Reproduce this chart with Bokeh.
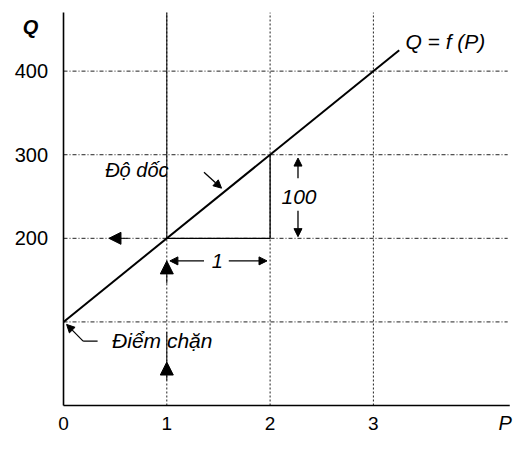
from bokeh.plotting import figure
from bokeh.models import Range1d, Arrow, NormalHead
from bokeh.core.properties import value
from bokeh.embed import file_html
from bokeh.resources import INLINE

# ---- data ----
price = [0, 3.25]
quantity = [100, 425]
x_ticks = [0, 1, 2, 3]
x_tick_labels = ["0", "1", "2", "3"]
y_ticks = [200, 300, 400]
y_tick_labels = ["200", "300", "400"]
grid_x = [1, 2, 3]
grid_y = [100, 200, 300, 400]
# slope triangle (run 1, rise 100)
tri_x = [1, 2, 2]
tri_y = [200, 200, 300]

FONT = value("Liberation Sans")
P_MAX = 4.30
Q_TOP = 470
TICK_Q = -21

p = figure(width=514, height=433,
           x_range=Range1d(-0.61, 4.366), y_range=Range1d(-33.5, 484.5),
           output_backend="svg", toolbar_location=None,
           x_axis_type=None, y_axis_type=None, min_border=0)
p.outline_line_color = None
p.background_fill_color = "white"
p.border_fill_color = "white"

# dotted gridlines
p.segment(x0=grid_x, y0=[0] * len(grid_x), x1=grid_x, y1=[Q_TOP] * len(grid_x),
          line_color="#222222", line_width=1, line_dash="2 2")
p.segment(x0=[0] * len(grid_y), y0=grid_y, x1=[P_MAX] * len(grid_y), y1=grid_y,
          line_color="#222222", line_width=1, line_dash="4 2 1 2")

# solid part of P=1 guide
p.line(x=[1, 1], y=[200, Q_TOP], line_color="black", line_width=1)
p.line(x=[1, 1], y=[52, 88], line_color="black", line_width=1)

# axes lines
p.line(x=[0, 0], y=[0, Q_TOP], line_color="black", line_width=1.6)
p.line(x=[0, P_MAX + 0.02], y=[0, 0], line_color="black", line_width=1.6)

# tick labels
p.text(x=x_ticks, y=[TICK_Q] * len(x_ticks), text=x_tick_labels, text_font=FONT,
       text_font_size="19px", text_align="center", text_baseline="middle", text_color="black")
p.text(x=[-0.15] * len(y_ticks), y=y_ticks, text=y_tick_labels, text_font=FONT,
       text_font_size="20px", text_align="right", text_baseline="middle", text_color="black")
p.text(x=[4.34], y=[TICK_Q], text=["P"], text_font=FONT, text_font_style="italic",
       text_font_size="20px", text_align="right", text_baseline="middle", text_color="black")
p.text(x=[-0.32], y=[453], text=["Q"], text_font=FONT, text_font_style="bold italic",
       text_font_size="20px", text_align="center", text_baseline="middle", text_color="black")

# demand line
p.line(x=price, y=quantity, line_color="black", line_width=2)
p.text(x=[3.31], y=[435], text=["Q = f (P)"], text_font=FONT, text_font_style="italic",
       text_font_size="21px", text_align="left", text_baseline="middle", text_color="black")

# slope triangle
p.line(x=tri_x, y=tri_y, line_color="black", line_width=1.3)

def arrow(x0, y0, x1, y1, size=12, lw=1.3):
    p.add_layout(Arrow(end=NormalHead(size=size, fill_color="black", line_color="black", line_width=1),
                       x_start=x0, y_start=y0, x_end=x1, y_end=y1,
                       line_color="black", line_width=lw))

# arrow left on Q=200
arrow(0.62, 200, 0.44, 200, size=12, lw=1)
# arrows up on P=1
arrow(1, 146, 1, 173, size=13, lw=1)
arrow(1, 30, 1, 52, size=13, lw=1)

# "1" run label
arrow(1.36, 173, 1.03, 173, size=8)
arrow(1.60, 173, 1.97, 173, size=8)
p.text(x=[1.49], y=[173], text=["1"], text_font=FONT, text_font_style="italic",
       text_font_size="20px", text_align="center", text_baseline="middle", text_color="black")

# "100" rise label
arrow(2.27, 272, 2.27, 296, size=8)
arrow(2.27, 233, 2.27, 202, size=8)
p.text(x=[2.28], y=[249], text=["100"], text_font=FONT, text_font_style="italic",
       text_font_size="21px", text_align="center", text_baseline="middle", text_color="black")

# "Độ dốc"
p.text(x=[0.71], y=[282], text=["Độ dốc"], text_font=FONT, text_font_style="italic",
       text_font_size="20px", text_align="center", text_baseline="middle", text_color="black")
arrow(1.36, 279, 1.53, 260, size=8)

# "Điểm chặn"
p.text(x=[0.47], y=[78], text=["Điểm chặn"], text_font=FONT, text_font_style="italic",
       text_font_size="21px", text_align="left", text_baseline="middle", text_color="black")
p.line(x=[0.33, 0.19], y=[77, 77], line_color="black", line_width=1.2)
arrow(0.19, 77, 0.03, 97, size=8, lw=1.2)

open("out.html", "w").write(file_html(p, INLINE))
